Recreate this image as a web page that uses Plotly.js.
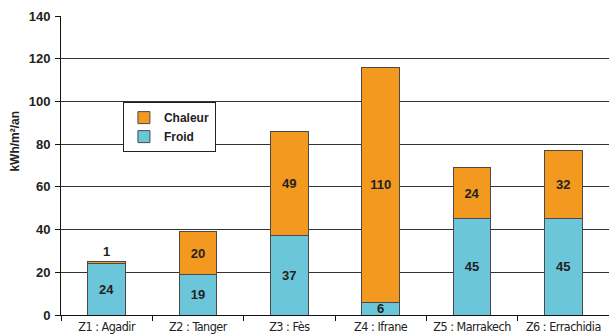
<!DOCTYPE html>
<html>
<head>
<meta charset="utf-8">
<script src="https://cdn.plot.ly/plotly-3.0.1.min.js"></script>
<style>
  html, body { margin: 0; padding: 0; background: #fff; }
  #chart { width: 609px; height: 336px; }
  /* category labels in a condensed face */
  #chart .xtick text { font-stretch: condensed; letter-spacing: -0.5px; }
</style>
</head>
<body>
<div id="chart"></div>
<script>
// Consommation annuelle par zone climatique (kWh/m²/an)
const zones = ["Z1 : Agadir", "Z2 : Tanger", "Z3 : Fès", "Z4 : Ifrane", "Z5 : Marrakech", "Z6 : Errachidia"];
const froid = [24, 19, 37, 6, 45, 45];
const chaleur = [1, 20, 49, 110, 24, 32];
const yTicks = [0, 20, 40, 60, 80, 100, 120, 140];
const unitLabel = "kWh/m²/an";

const sans = "Liberation Sans, Arial, sans-serif";
const labelFont = { family: sans, size: 13, color: "#222", weight: "bold" };
const barLine = { color: "#4a4a4a", width: 1 };

const traces = [
  {
    type: "bar",
    name: "Froid",
    x: zones,
    y: froid,
    marker: { color: "#6cc6da", line: barLine },
    text: froid.map(String),
    textposition: "inside",
    insidetextanchor: "middle",
    textangle: 0,
    constraintext: "none",
    textfont: labelFont,
    hoverinfo: "none"
  },
  {
    type: "bar",
    name: "Chaleur",
    x: zones,
    y: chaleur,
    marker: { color: "#f3991f", line: barLine },
    text: chaleur.map(String),
    textposition: chaleur.map(v => v < 5 ? "outside" : "inside"),
    insidetextanchor: "middle",
    textangle: 0,
    constraintext: "none",
    cliponaxis: false,
    textfont: labelFont,
    hoverinfo: "none"
  }
];

const layout = {
  width: 609,
  height: 336,
  margin: { l: 61, r: 0, t: 16, b: 21 },
  paper_bgcolor: "#ffffff",
  plot_bgcolor: "#ffffff",
  barmode: "stack",
  bargap: 0.59,
  showlegend: true,
  legend: {
    x: 0.113, y: 0.712, xanchor: "left", yanchor: "top",
    traceorder: "reversed",
    bgcolor: "#ffffff",
    bordercolor: "#222",
    borderwidth: 1,
    font: { family: sans, size: 12, color: "#222", weight: "bold" },
    itemwidth: 30,
    tracegroupgap: 0
  },
  xaxis: {
    type: "category",
    showline: true,
    linecolor: "#111",
    linewidth: 1,
    ticks: "outside",
    tickson: "boundaries",
    ticklen: 5,
    tickcolor: "#111",
    tickangle: 0,
    showgrid: false,
    tickfont: { family: "DejaVu Sans Condensed, DejaVu Sans, sans-serif", size: 12.5, color: "#222" },
    fixedrange: true
  },
  yaxis: {
    range: [0, 140],
    tickvals: yTicks,
    showline: true,
    linecolor: "#111",
    linewidth: 1,
    ticks: "outside",
    ticklen: 5,
    tickcolor: "#111",
    showgrid: true,
    gridcolor: "#333",
    gridwidth: 1,
    zeroline: false,
    tickfont: { family: sans, size: 13, color: "#222", weight: "bold" },
    ticklabelstandoff: 2,
    fixedrange: true
  },
  annotations: [
    {
      text: unitLabel,
      xref: "paper", yref: "paper",
      x: 0, xshift: -46, y: 0.58,
      xanchor: "center", yanchor: "middle",
      textangle: -90,
      showarrow: false,
      font: { family: sans, size: 12, color: "#222", weight: "bold" }
    }
  ]
};

Plotly.newPlot("chart", traces, layout, { displayModeBar: false, staticPlot: true });
</script>
</body>
</html>
